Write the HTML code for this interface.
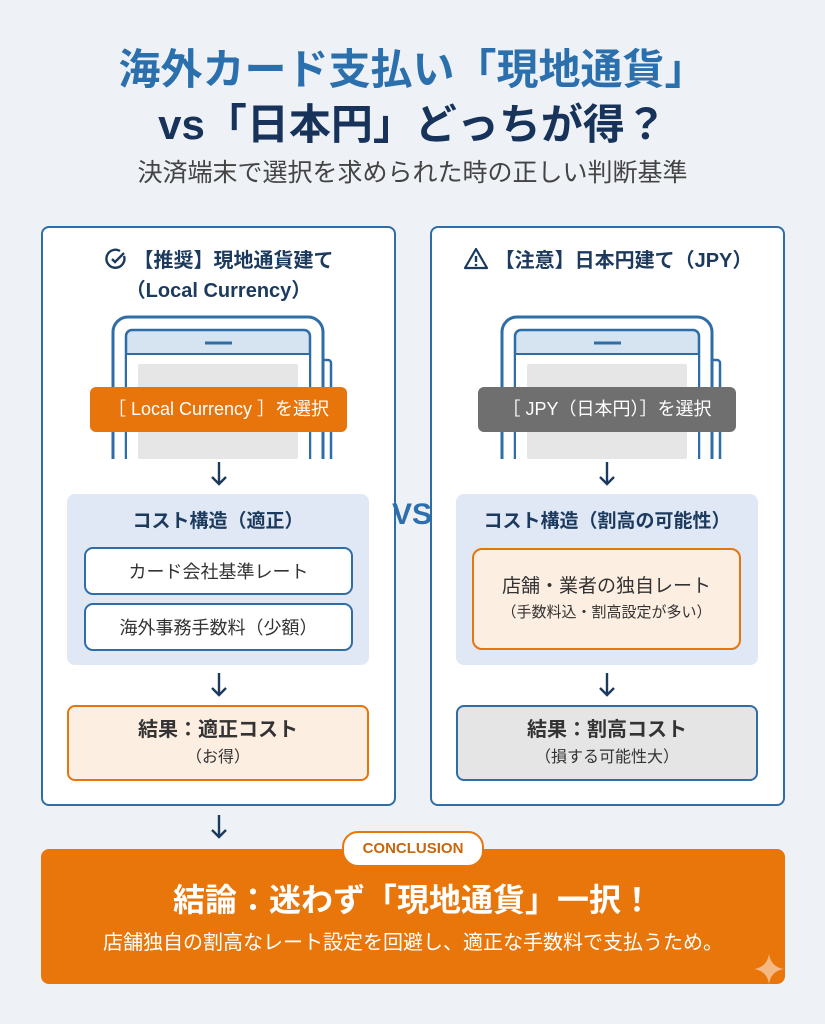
<!DOCTYPE html>
<html><head><meta charset="utf-8"><style>
*{margin:0;padding:0;box-sizing:border-box}
body{width:825px;height:1024px;background:#eef2f7;position:relative;overflow:hidden;font-family:"Liberation Sans","Noto Sans CJK JP",sans-serif;color:#1c3a5e}
.a{position:absolute}
.c{text-align:center;white-space:nowrap}
.panel{border:2px solid #2f6da6;border-radius:8px;background:#fff}
.cost{background:#dfe8f4;border-radius:8px}
.wb{background:#fff;border:2px solid #2f6da6;border-radius:9px;font-size:18px;color:#333;display:flex;align-items:center;justify-content:center}
</style></head><body>
<svg width="0" height="0" style="position:absolute"><defs><symbol id="ar" viewBox="0 0 20 26"><line x1="10" y1="1" x2="10" y2="23" stroke="#1c3a5e" stroke-width="2.4"/><path d="M3 16 L10 23 L17 16" fill="none" stroke="#1c3a5e" stroke-width="2.4"/></symbol></defs></svg>
<div class="a c" style="left:0;width:825px;top:44px;font-size:42px;font-weight:bold;color:#2b6fad;line-height:52px">海外カード支払い「現地通貨」</div>
<div class="a c" style="left:0;width:825px;top:99px;font-size:42px;font-weight:bold;color:#17335a;line-height:52px">vs「日本円」どっちが得？</div>
<div class="a c" style="left:0;width:825px;top:157px;font-size:25px;color:#444;line-height:32px">決済端末で選択を求められた時の正しい判断基準</div>

<!-- left panel -->
<div class="a panel" style="left:41px;top:226px;width:355px;height:580px"></div>
<div class="a c" style="left:41px;width:355px;top:246px;font-size:20px;font-weight:bold;line-height:30px">
<svg width="24" height="24" viewBox="0 0 24 24" style="vertical-align:-4px;margin-right:6px"><path d="M20 9 A9 9 0 1 1 16 4" fill="none" stroke="#1c3a5e" stroke-width="2.4"/><path d="M8 12l3 3 9-9" fill="none" stroke="#1c3a5e" stroke-width="2.4"/></svg>【推奨】現地通貨建て<br>（Local Currency）</div>
<svg class="a" style="left:110px;top:314px" width="230" height="145">
<path d="M212 46 h6 a3 3 0 0 1 3 3 V145" fill="none" stroke="#2f6da6" stroke-width="2.5"/>
<path d="M3 145 V18 a15 15 0 0 1 15 -15 H198 a15 15 0 0 1 15 15 V145" fill="none" stroke="#2f6da6" stroke-width="3"/>
<path d="M16 145 V22 a6 6 0 0 1 6 -6 H194 a6 6 0 0 1 6 6 V145" fill="#d6e3f1" stroke="#2f6da6" stroke-width="2.5"/>
<rect x="17" y="40" width="182" height="105" fill="#fff"/>
<line x1="17" y1="40" x2="199" y2="40" stroke="#2f6da6" stroke-width="2"/>
<line x1="95" y1="29" x2="122" y2="29" stroke="#2f6da6" stroke-width="3"/>
<rect x="28" y="50" width="160" height="95" fill="#e6e6e6" rx="2"/>
</svg>
<div class="a c" style="left:90px;top:387px;width:257px;height:45px;background:#e8740c;border-radius:6px;color:#fff;font-size:18px;line-height:45px">［ Local Currency ］を選択</div>
<svg class="a" style="left:209px;top:461px" width="20" height="26"><use href="#ar"/></svg>
<div class="a cost" style="left:67px;top:494px;width:302px;height:171px"></div>
<div class="a c" style="left:67px;width:302px;top:508px;font-size:19px;font-weight:bold;line-height:28px">コスト構造（適正）</div>
<div class="a wb" style="left:84px;top:547px;width:269px;height:48px">カード会社基準レート</div>
<div class="a wb" style="left:84px;top:603px;width:269px;height:48px">海外事務手数料（少額）</div>
<svg class="a" style="left:209px;top:672px" width="20" height="26"><use href="#ar"/></svg>
<div class="a" style="left:67px;top:705px;width:302px;height:76px;background:#fdeee2;border:2px solid #e8740c;border-radius:8px"></div>
<div class="a c" style="left:67px;width:302px;top:716px;font-size:20px;font-weight:bold;color:#333;line-height:28px">結果：適正コスト</div>
<div class="a c" style="left:67px;width:302px;top:746px;font-size:16px;color:#333;line-height:24px">（お得）</div>

<div class="a" style="left:392px;top:498px;font-size:30px;font-weight:bold;color:#2b6fad">VS</div>

<!-- right panel -->
<div class="a panel" style="left:430px;top:226px;width:355px;height:580px"></div>
<div class="a c" style="left:430px;width:355px;top:246px;font-size:20px;font-weight:bold;line-height:30px">
<svg width="26" height="24" viewBox="0 0 26 24" style="vertical-align:-4px;margin-right:6px"><path d="M13 2 L24 21 H2 Z" fill="none" stroke="#1c3a5e" stroke-width="2.2" stroke-linejoin="round"/><line x1="13" y1="9" x2="13" y2="15" stroke="#1c3a5e" stroke-width="2.4"/><circle cx="13" cy="18" r="1.3" fill="#1c3a5e"/></svg>【注意】日本円建て（JPY）</div>
<svg class="a" style="left:499px;top:314px" width="230" height="145">
<path d="M212 46 h6 a3 3 0 0 1 3 3 V145" fill="none" stroke="#2f6da6" stroke-width="2.5"/>
<path d="M3 145 V18 a15 15 0 0 1 15 -15 H198 a15 15 0 0 1 15 15 V145" fill="none" stroke="#2f6da6" stroke-width="3"/>
<path d="M16 145 V22 a6 6 0 0 1 6 -6 H194 a6 6 0 0 1 6 6 V145" fill="#d6e3f1" stroke="#2f6da6" stroke-width="2.5"/>
<rect x="17" y="40" width="182" height="105" fill="#fff"/>
<line x1="17" y1="40" x2="199" y2="40" stroke="#2f6da6" stroke-width="2"/>
<line x1="95" y1="29" x2="122" y2="29" stroke="#2f6da6" stroke-width="3"/>
<rect x="28" y="50" width="160" height="95" fill="#e6e6e6" rx="2"/>
</svg>
<div class="a c" style="left:478px;top:387px;width:258px;height:45px;background:#6f6f6f;border-radius:6px;color:#fff;font-size:18px;line-height:45px">［ JPY（日本円）］を選択</div>
<svg class="a" style="left:597px;top:461px" width="20" height="26"><use href="#ar"/></svg>
<div class="a cost" style="left:456px;top:494px;width:302px;height:171px"></div>
<div class="a c" style="left:456px;width:302px;top:508px;font-size:19px;font-weight:bold;line-height:28px">コスト構造（割高の可能性）</div>
<div class="a" style="left:472px;top:548px;width:269px;height:102px;background:#fdeee2;border:2.5px solid #e8740c;border-radius:10px"></div>
<div class="a c" style="left:472px;width:269px;top:574px;font-size:19px;color:#333;line-height:26px">店舗・業者の独自レート</div>
<div class="a c" style="left:472px;width:269px;top:602px;font-size:15px;color:#333;line-height:22px">（手数料込・割高設定が多い）</div>
<svg class="a" style="left:597px;top:672px" width="20" height="26"><use href="#ar"/></svg>
<div class="a" style="left:456px;top:705px;width:302px;height:76px;background:#e5e5e5;border:2px solid #2f6da6;border-radius:8px"></div>
<div class="a c" style="left:456px;width:302px;top:716px;font-size:20px;font-weight:bold;color:#333;line-height:28px">結果：割高コスト</div>
<div class="a c" style="left:456px;width:302px;top:746px;font-size:16px;color:#333;line-height:24px">（損する可能性大）</div>

<svg class="a" style="left:209px;top:814px" width="20" height="26"><use href="#ar"/></svg>
<div class="a" style="left:41px;top:849px;width:744px;height:135px;background:#e8760a;border-radius:8px"></div>
<div class="a c" style="left:342px;top:831px;width:142px;height:36px;background:#fff;border:2px solid #e8760a;border-radius:16px;color:#c9660c;font-size:15px;font-weight:bold;line-height:32px">CONCLUSION</div>
<div class="a c" style="left:41px;width:744px;top:879px;font-size:32px;font-weight:bold;color:#fff;line-height:42px">結論：迷わず「現地通貨」一択！</div>
<div class="a c" style="left:41px;width:744px;top:929px;font-size:20px;color:#fff;line-height:28px">店舗独自の割高なレート設定を回避し、適正な手数料で支払うため。</div>
<svg class="a" style="left:752px;top:952px" width="34" height="34"><path d="M17 2 Q19 15 32 17 Q19 19 17 32 Q15 19 2 17 Q15 15 17 2Z" fill="#f6c9a0" opacity="0.8"/></svg>
</body></html>
